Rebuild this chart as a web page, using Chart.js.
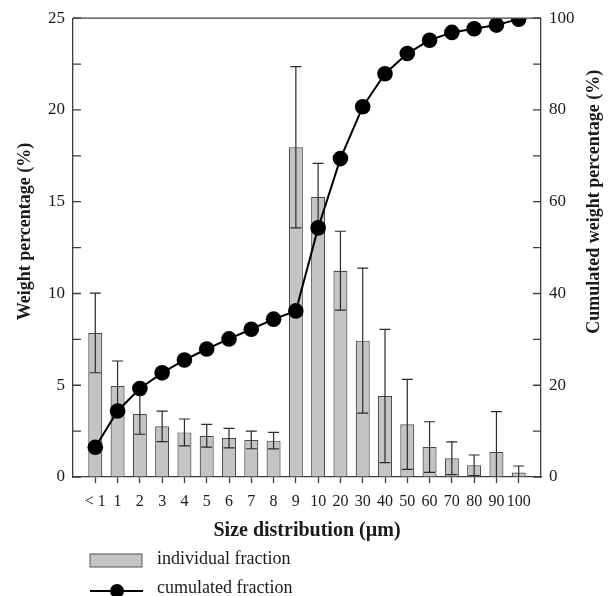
<!DOCTYPE html>
<html>
<head>
<meta charset="utf-8">
<script src="https://cdn.jsdelivr.net/npm/chart.js@4"></script>
<style>
  body { margin: 0; background: #fff; }
</style>
</head>
<body>
<canvas id="myChart" width="608" height="596"></canvas>
<script>
// Size classes (µm)
const categories = ['< 1', '1', '2', '3', '4', '5', '6', '7', '8', '9', '10', '20', '30', '40', '50', '60', '70', '80', '90', '100'];
// Individual fraction (weight %), with its error bar half-length
const individual = [7.85, 4.96, 3.43, 2.76, 2.43, 2.25, 2.12, 2.02, 1.98, 17.97, 15.27, 11.24, 7.43, 4.41, 2.87, 1.63, 1.02, 0.64, 1.36, 0.24];
const errors = [2.17, 1.36, 1.1, 0.83, 0.73, 0.62, 0.53, 0.48, 0.45, 4.39, 1.82, 2.15, 3.95, 3.63, 2.45, 1.38, 0.89, 0.56, 2.2, 0.36];
// Cumulated fraction (weight %)
const cumulated = [6.5, 14.4, 19.3, 22.7, 25.5, 27.9, 30.1, 32.2, 34.4, 36.2, 54.3, 69.4, 80.7, 87.9, 92.3, 95.2, 96.9, 97.7, 98.5, 99.8];
// Axis tick labels
const leftTicks = [0, 5, 10, 15, 20, 25];
const rightTicks = [0, 20, 40, 60, 80, 100];

const FONT = '"Liberation Serif", "Times New Roman", serif';
const AXIS = '#3c3c3c';
const TEXT = '#1a1a1a';

// one empty slot at each end so the bars sit a full step away from the axes
const labels = ['', ...categories, ''];
const pad = arr => [null, ...arr, null];

const decorations = {
  id: 'decorations',
  afterDatasetDraw(chart, args) {
    if (args.index !== 0) return;
    // error bars on the individual fraction
    const ctx = chart.ctx;
    const y = chart.scales.y;
    const meta = chart.getDatasetMeta(0);
    ctx.save();
    ctx.strokeStyle = '#2a2a2a';
    ctx.lineWidth = 1.2;
    meta.data.forEach((bar, i) => {
      const v = individual[i - 1];
      if (v == null) return;
      const e = errors[i - 1];
      const lo = Math.max(v - e, 0);
      const yTop = y.getPixelForValue(v + e);
      const yBot = y.getPixelForValue(lo);
      ctx.beginPath();
      ctx.moveTo(bar.x, yTop);
      ctx.lineTo(bar.x, yBot);
      ctx.moveTo(bar.x - 5.5, yTop);
      ctx.lineTo(bar.x + 5.5, yTop);
      if (lo > 0) {
        ctx.moveTo(bar.x - 5.5, yBot);
        ctx.lineTo(bar.x + 5.5, yBot);
      }
      ctx.stroke();
    });
    ctx.restore();
  },
  afterDraw(chart) {
    const ctx = chart.ctx;
    const area = chart.chartArea;
    ctx.save();
    ctx.strokeStyle = AXIS;
    ctx.lineWidth = 1.3;
    // top frame line
    ctx.beginPath();
    ctx.moveTo(area.left, area.top);
    ctx.lineTo(area.right, area.top);
    ctx.stroke();
    // inward ticks on both value axes
    const yL = chart.scales.y, yR = chart.scales.y1;
    ctx.beginPath();
    yL.ticks.forEach(t => {
      const p = yL.getPixelForValue(t.value);
      ctx.moveTo(area.left, p);
      ctx.lineTo(area.left + 8, p);
    });
    yR.ticks.forEach(t => {
      const p = yR.getPixelForValue(t.value);
      ctx.moveTo(area.right, p);
      ctx.lineTo(area.right - 8, p);
    });
    ctx.stroke();

    // vertical axis titles, both reading bottom to top
    ctx.fillStyle = TEXT;
    ctx.font = 'bold 18px ' + FONT;
    ctx.textAlign = 'center';
    ctx.textBaseline = 'middle';
    ctx.save();
    ctx.translate(25, area.top + (area.bottom - area.top) * 0.465);
    ctx.rotate(-Math.PI / 2);
    ctx.fillText('Weight percentage (%)', 0, 0);
    ctx.restore();
    ctx.save();
    ctx.translate(594, area.top + (area.bottom - area.top) * 0.4);
    ctx.rotate(-Math.PI / 2);
    ctx.fillText('Cumulated weight percentage (%)', 0, 0);
    ctx.restore();

    // legend below the axis title
    const lx = area.left + 17;
    const ly = area.bottom + 77;
    ctx.fillStyle = '#c4c4c4';
    ctx.fillRect(lx, ly, 52, 13);
    ctx.strokeStyle = '#555';
    ctx.lineWidth = 1;
    ctx.strokeRect(lx, ly, 52, 13);
    ctx.strokeStyle = '#000';
    ctx.lineWidth = 2;
    ctx.beginPath();
    ctx.moveTo(lx, ly + 37);
    ctx.lineTo(lx + 53, ly + 37);
    ctx.stroke();
    ctx.fillStyle = '#000';
    ctx.beginPath();
    ctx.arc(lx + 27, ly + 37, 7, 0, Math.PI * 2);
    ctx.fill();
    ctx.fillStyle = TEXT;
    ctx.font = '18px ' + FONT;
    ctx.textAlign = 'left';
    ctx.fillText('individual fraction', lx + 67, ly + 5);
    ctx.fillText('cumulated fraction', lx + 67, ly + 34);
    ctx.restore();
  }
};

const ctx = document.getElementById('myChart').getContext('2d');
new Chart(ctx, {
  type: 'bar',
  data: {
    labels: labels,
    datasets: [
      {
        label: 'individual fraction',
        data: pad(individual),
        yAxisID: 'y',
        backgroundColor: '#c4c4c4',
        borderColor: '#4a4a4a',
        borderWidth: 1.2,
        barPercentage: 0.63,
        categoryPercentage: 1,
        order: 1
      },
      {
        type: 'line',
        label: 'cumulated fraction',
        data: pad(cumulated),
        yAxisID: 'y1',
        borderColor: '#000',
        borderWidth: 2,
        backgroundColor: '#000',
        pointRadius: 7.8,
        pointBackgroundColor: '#000',
        pointBorderWidth: 0,
        tension: 0,
        order: 0
      }
    ]
  },
  options: {
    responsive: false,
    animation: false,
    layout: { padding: { top: 18, bottom: 53, left: 0, right: 0 } },
    plugins: {
      legend: { display: false },
      tooltip: { enabled: false }
    },
    scales: {
      x: {
        offset: false,
        grid: {
          offset: false,
          drawOnChartArea: false,
          drawTicks: true,
          tickLength: 6,
          tickColor: c => (c.index === 0 || c.index === labels.length - 1) ? 'rgba(0,0,0,0)' : AXIS,
          tickWidth: 1.3
        },
        border: { display: true, color: AXIS, width: 1.3 },
        ticks: {
          autoSkip: false,
          maxRotation: 0,
          padding: 9,
          color: TEXT,
          font: { family: FONT, size: 16 }
        },
        title: {
          display: true,
          text: 'Size distribution (µm)',
          color: TEXT,
          font: { family: FONT, size: 20, weight: 'bold' },
          padding: { top: 0, bottom: 0 }
        },
        afterFit: s => { s.height = 66; }
      },
      y: {
        position: 'left',
        min: 0,
        max: 25,
        grid: { display: true, drawOnChartArea: false, drawTicks: false },
        border: { display: true, color: AXIS, width: 1.3 },
        ticks: {
          stepSize: 2.5,
          padding: 8,
          color: TEXT,
          font: { family: FONT, size: 17 },
          callback: v => leftTicks.includes(v) ? String(v) : ''
        },
        afterFit: s => { s.width = 73; }
      },
      y1: {
        position: 'right',
        min: 0,
        max: 100,
        grid: { display: true, drawOnChartArea: false, drawTicks: false },
        border: { display: true, color: AXIS, width: 1.3 },
        ticks: {
          stepSize: 10,
          padding: 8,
          color: TEXT,
          font: { family: FONT, size: 17 },
          callback: v => rightTicks.includes(v) ? String(v) : ''
        },
        afterFit: s => { s.width = 67; }
      }
    }
  },
  plugins: [decorations]
});
</script>
</body>
</html>
